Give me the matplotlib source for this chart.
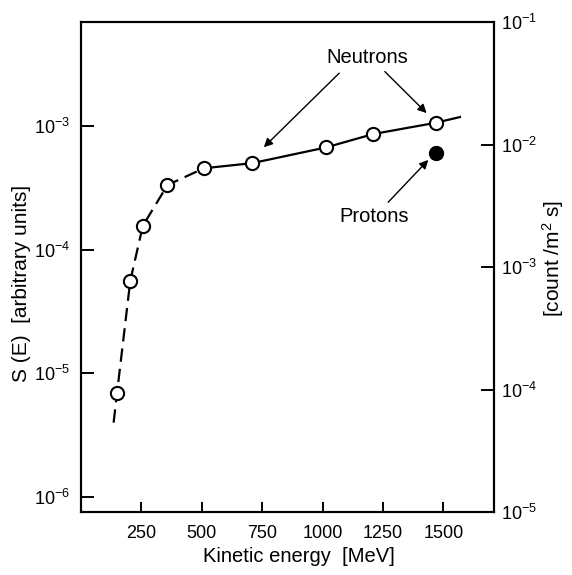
import matplotlib
matplotlib.use("Agg")
import matplotlib.pyplot as plt
from matplotlib.ticker import FixedLocator, FixedFormatter, NullLocator

FONT = ['Liberation Sans', 'DejaVu Sans']
plt.rcParams['font.family'] = FONT
plt.rcParams['mathtext.fontset'] = 'custom'
plt.rcParams['mathtext.rm'] = 'Liberation Sans'
plt.rcParams['mathtext.it'] = 'Liberation Sans'
plt.rcParams['mathtext.bf'] = 'Liberation Sans'

# Neutron measurements (open circles)
neutron_E = [149, 204, 256, 358, 509, 708, 1014, 1210, 1468]
neutron_S = [6.9e-6, 5.6e-5, 1.56e-4, 3.33e-4, 4.55e-4, 5.0e-4, 6.7e-4, 8.6e-4, 1.06e-3]

# Fitted curve: dashed part (low energy) and solid part
dash_E = [135, 149, 204, 256, 358, 509]
dash_S = [4.0e-6, 6.9e-6, 5.6e-5, 1.56e-4, 3.33e-4, 4.55e-4]
solid_E = [509, 708, 1014, 1210, 1468, 1569]
solid_S = [4.55e-4, 5.0e-4, 6.7e-4, 8.6e-4, 1.06e-3, 1.18e-3]

# Proton measurement (filled circle)
proton_E = [1468]
proton_S = [6.1e-4]

x_ticks = [250, 500, 750, 1000, 1250, 1500]
x_ticklabels = ['250', '500', '750', '1000', '1250', '1500']
left_ticks = [1e-6, 1e-5, 1e-4, 1e-3]
left_ticklabels = [r'$10^{-6}$', r'$10^{-5}$', r'$10^{-4}$', r'$10^{-3}$']
right_ticks = [1e-5, 1e-4, 1e-3, 1e-2, 1e-1]
right_ticklabels = [r'$10^{-5}$', r'$10^{-4}$', r'$10^{-3}$', r'$10^{-2}$', r'$10^{-1}$']

fig = plt.figure(figsize=(5.72, 5.75), dpi=100)
ax = fig.add_axes([81/572, 1-512/575, (494-81)/572, (512-22)/575])

ax.set_xscale('linear')
ax.set_yscale('log')
ax.set_xlim(0, 1710)
ax.set_ylim(10**-6.12, 10**-2.16)

ax.plot(dash_E, dash_S, color='black', lw=1.6, dashes=(6, 3.2), zorder=2)
ax.plot(solid_E, solid_S, color='black', lw=1.6, zorder=2)
ax.plot(neutron_E, neutron_S, 'o', ms=9.5, mfc='white', mec='black', mew=1.5, zorder=3)
ax.plot(proton_E, proton_S, 'o', ms=9.5, mfc='black', mec='black', mew=1.5, zorder=3)

ax.xaxis.set_major_locator(FixedLocator(x_ticks))
ax.xaxis.set_major_formatter(FixedFormatter(x_ticklabels))
ax.yaxis.set_major_locator(FixedLocator(left_ticks))
ax.yaxis.set_major_formatter(FixedFormatter(left_ticklabels))
ax.yaxis.set_minor_locator(NullLocator())
ax.tick_params(axis='x', direction='in', length=7.5, width=1.4, pad=9, labelsize=13)
ax.tick_params(axis='y', direction='in', length=9.5, width=1.4, pad=8, labelsize=13)
for s in ax.spines.values():
    s.set_linewidth(1.5)

ax2 = ax.twinx()
ax2.set_yscale('log')
ax2.set_ylim(1e-5, 1e-1)
ax2.yaxis.set_major_locator(FixedLocator(right_ticks))
ax2.yaxis.set_major_formatter(FixedFormatter(right_ticklabels))
ax2.yaxis.set_minor_locator(NullLocator())
ax2.tick_params(axis='y', direction='in', length=9.5, width=1.4, pad=5, labelsize=13)
for s in ax2.spines.values():
    s.set_linewidth(1.5)

# Annotations
arrow = dict(arrowstyle='-|>', color='black', lw=1.0, mutation_scale=13, shrinkA=0, shrinkB=0)
ax.text(1184, 3.55e-3, 'Neutrons', ha='center', va='center', fontsize=14.5)
ax.annotate('', xy=(757, 6.73e-4), xytext=(1069, 2.67e-3), arrowprops=arrow)
ax.annotate('', xy=(1431, 1.27e-3), xytext=(1258, 2.75e-3), arrowprops=arrow)
ax.text(1212, 1.87e-4, 'Protons', ha='center', va='center', fontsize=14.5)
ax.annotate('', xy=(1438, 5.31e-4), xytext=(1272, 2.42e-4), arrowprops=arrow)

fig.text(299/572, 1-557/575, 'Kinetic energy  [MeV]', ha='center', va='center', fontsize=14.5)
fig.text(22/572, 1-283/575, 'S (E)  [arbitrary units]', ha='center', va='center',
         rotation=90, fontsize=15)
fig.text(553/572, 1-258/575, r'[count /m$^{2}$ s]', ha='center', va='center',
         rotation=90, fontsize=15)

fig.savefig('out.png', dpi=100)
